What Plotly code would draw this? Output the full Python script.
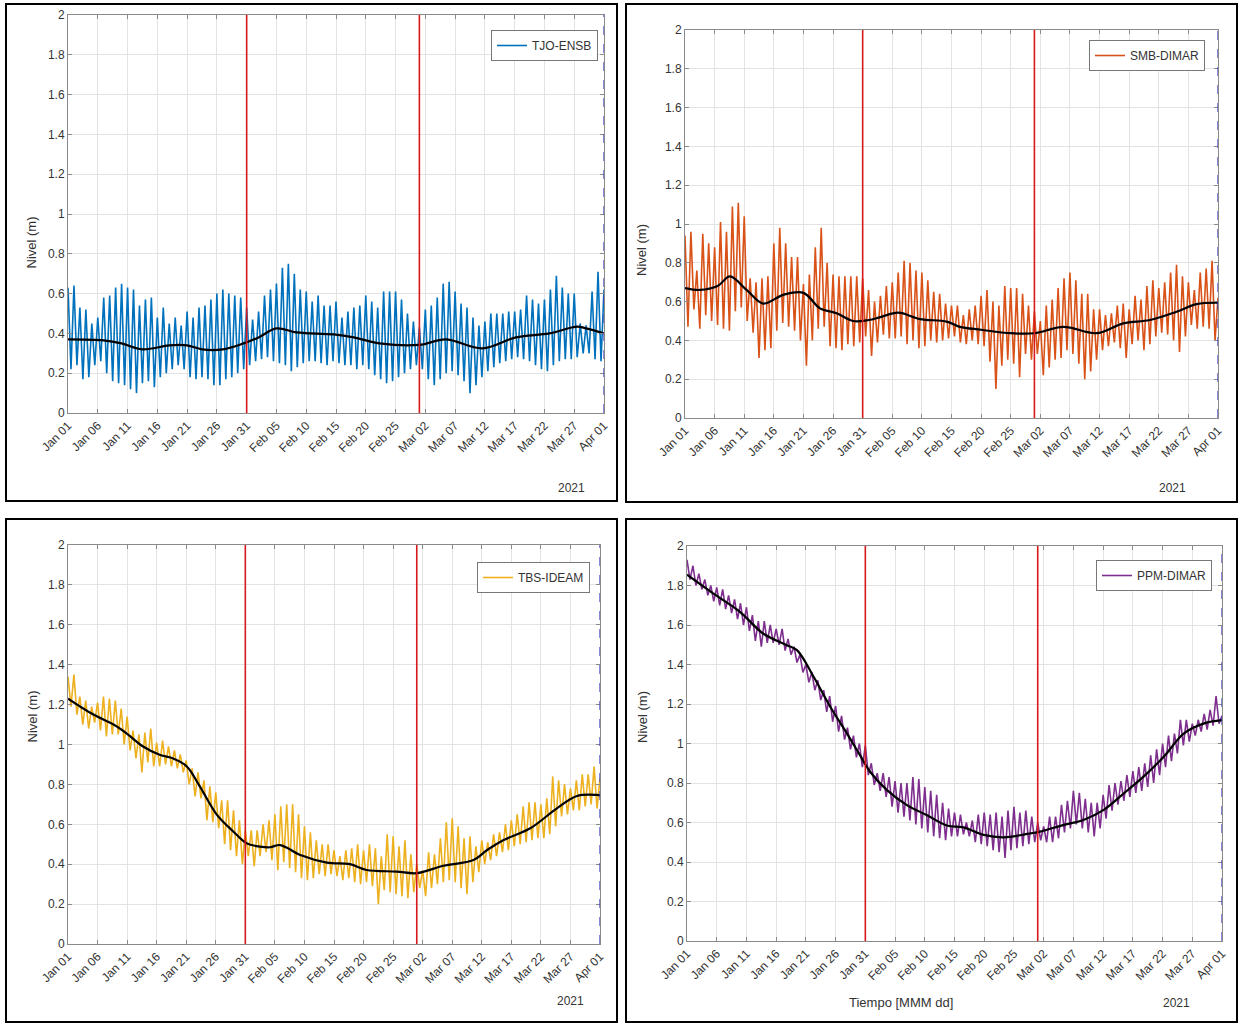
import pandas as pd
import plotly.graph_objects as go
from plotly.subplots import make_subplots

START = "2021-01-01"
END = "2021-04-01"
event_dates = ["2021-01-31", "2021-03-01"]
year_label = "2021"
station_names = ["TJO-ENSB", "SMB-DIMAR", "TBS-IDEAM", "PPM-DIMAR"]
station_colors = ["#0072BD", "#D95319", "#EDB120", "#7E2F8E"]
y_ticks = [0, 0.2, 0.4, 0.6, 0.8, 1, 1.2, 1.4, 1.6, 1.8, 2]
y_ticktext = ["0", "0.2", "0.4", "0.6", "0.8", "1", "1.2", "1.4", "1.6", "1.8", "2"]

# ---- daily high / low water levels (m), Jan 01 .. Apr 01 ----
tjo_high = [0.63, 0.64, 0.53, 0.52, 0.45, 0.48, 0.58, 0.59, 0.63, 0.65,
            0.63, 0.62, 0.54, 0.57, 0.58, 0.48, 0.53, 0.45, 0.48, 0.44,
            0.51, 0.48, 0.53, 0.54, 0.57, 0.60, 0.62, 0.60, 0.59, 0.58,
            0.53, 0.47, 0.51, 0.59, 0.62, 0.65, 0.73, 0.75, 0.70, 0.62,
            0.61, 0.56, 0.59, 0.54, 0.54, 0.56, 0.48, 0.51, 0.53, 0.54,
            0.59, 0.56, 0.53, 0.61, 0.61, 0.61, 0.57, 0.50, 0.46, 0.43,
            0.52, 0.54, 0.58, 0.65, 0.66, 0.61, 0.55, 0.53, 0.48, 0.44,
            0.46, 0.50, 0.50, 0.50, 0.51, 0.51, 0.52, 0.59, 0.57, 0.55,
            0.57, 0.62, 0.69, 0.63, 0.60, 0.60, 0.45, 0.44, 0.61, 0.71,
            0.62]
tjo_low = [0.22, 0.24, 0.17, 0.18, 0.24, 0.26, 0.20, 0.16, 0.15, 0.14,
           0.12, 0.10, 0.15, 0.16, 0.13, 0.18, 0.20, 0.22, 0.24, 0.22,
           0.18, 0.17, 0.18, 0.17, 0.14, 0.14, 0.17, 0.18, 0.20, 0.22,
           0.24, 0.26, 0.27, 0.28, 0.26, 0.25, 0.24, 0.21, 0.23, 0.25,
           0.26, 0.26, 0.25, 0.24, 0.26, 0.25, 0.24, 0.24, 0.22, 0.24,
           0.22, 0.19, 0.17, 0.15, 0.16, 0.18, 0.20, 0.22, 0.24, 0.22,
           0.17, 0.14, 0.17, 0.20, 0.21, 0.19, 0.16, 0.10, 0.14, 0.18,
           0.21, 0.23, 0.25, 0.26, 0.27, 0.28, 0.27, 0.26, 0.24, 0.22,
           0.21, 0.24, 0.26, 0.27, 0.27, 0.28, 0.30, 0.30, 0.27, 0.26,
           0.25]
tjo_mean_day = [0, 6, 9, 12.5, 17, 20, 22.5, 26, 29.5, 32, 35, 38.4, 44.6, 48,
                52.3, 59, 63.4, 69.6, 75.2, 80.8, 85.5, 87, 90]
tjo_mean = [0.37, 0.365, 0.35, 0.32, 0.34, 0.34, 0.32, 0.32, 0.35, 0.38, 0.425,
            0.405, 0.395, 0.38, 0.35, 0.342, 0.37, 0.325, 0.38, 0.40, 0.434,
            0.425, 0.40]

smb_high = [0.94, 0.96, 0.76, 0.95, 0.90, 0.88, 1.01, 0.96, 1.09, 1.11,
            1.04, 0.72, 0.70, 0.72, 0.73, 0.90, 0.98, 0.90, 0.83, 0.83,
            0.69, 0.74, 0.88, 0.98, 0.80, 0.74, 0.73, 0.73, 0.73, 0.73,
            0.72, 0.66, 0.60, 0.63, 0.68, 0.70, 0.75, 0.81, 0.80, 0.76,
            0.75, 0.71, 0.65, 0.64, 0.59, 0.58, 0.58, 0.53, 0.56, 0.58,
            0.63, 0.66, 0.60, 0.58, 0.68, 0.67, 0.67, 0.64, 0.58, 0.55,
            0.50, 0.58, 0.61, 0.67, 0.72, 0.75, 0.71, 0.64, 0.64, 0.56,
            0.56, 0.53, 0.54, 0.58, 0.59, 0.56, 0.63, 0.61, 0.68, 0.71,
            0.67, 0.70, 0.75, 0.79, 0.73, 0.70, 0.66, 0.75, 0.77, 0.81,
            0.62]
smb_low = [0.47, 0.56, 0.46, 0.53, 0.50, 0.48, 0.46, 0.45, 0.55, 0.57,
           0.50, 0.44, 0.31, 0.35, 0.36, 0.45, 0.49, 0.47, 0.45, 0.40,
           0.27, 0.40, 0.46, 0.47, 0.37, 0.36, 0.35, 0.38, 0.37, 0.39,
           0.42, 0.32, 0.39, 0.43, 0.41, 0.41, 0.42, 0.38, 0.40, 0.36,
           0.37, 0.40, 0.39, 0.40, 0.41, 0.42, 0.39, 0.38, 0.40, 0.38,
           0.37, 0.29, 0.15, 0.27, 0.30, 0.28, 0.21, 0.33, 0.30, 0.33,
           0.22, 0.26, 0.30, 0.31, 0.35, 0.33, 0.28, 0.20, 0.24, 0.30,
           0.35, 0.37, 0.39, 0.36, 0.31, 0.38, 0.40, 0.35, 0.38, 0.42,
           0.44, 0.43, 0.40, 0.34, 0.42, 0.48, 0.46, 0.47, 0.46, 0.40,
           0.37]
smb_mean_day = [0, 2.5, 5.5, 7.6, 10.4, 13.2, 16.6, 20, 22.8, 25.6, 28.4, 31,
                33, 36, 39.7, 44.2, 46.4, 50, 55, 59, 63.9, 69.5, 74, 78.5,
                83, 86.4, 90]
smb_mean = [0.67, 0.66, 0.68, 0.73, 0.66, 0.59, 0.635, 0.645, 0.565, 0.54, 0.50,
            0.505, 0.52, 0.543, 0.51, 0.497, 0.47, 0.455, 0.437, 0.437, 0.47,
            0.437, 0.488, 0.505, 0.548, 0.587, 0.594]

tbs_high = [1.34, 1.35, 1.24, 1.22, 1.19, 1.21, 1.24, 1.23, 1.22, 1.18,
            1.14, 1.07, 1.05, 1.06, 1.08, 1.01, 1.02, 0.99, 0.97, 0.95,
            0.92, 0.88, 0.86, 0.82, 0.79, 0.76, 0.72, 0.72, 0.67, 0.62,
            0.57, 0.57, 0.57, 0.60, 0.62, 0.65, 0.69, 0.70, 0.70, 0.65,
            0.59, 0.56, 0.52, 0.50, 0.50, 0.47, 0.44, 0.47, 0.48, 0.50,
            0.47, 0.50, 0.48, 0.44, 0.55, 0.54, 0.49, 0.52, 0.45, 0.40,
            0.37, 0.46, 0.45, 0.53, 0.61, 0.63, 0.59, 0.53, 0.54, 0.49,
            0.52, 0.51, 0.55, 0.56, 0.60, 0.62, 0.65, 0.69, 0.71, 0.71,
            0.70, 0.73, 0.84, 0.82, 0.80, 0.78, 0.82, 0.85, 0.85, 0.89,
            0.83]
tbs_low = [1.19, 1.15, 1.10, 1.08, 1.11, 1.07, 1.04, 1.05, 1.05, 1.00,
           0.97, 0.93, 0.86, 0.91, 0.89, 0.89, 0.90, 0.89, 0.88, 0.86,
           0.80, 0.74, 0.73, 0.62, 0.61, 0.58, 0.50, 0.47, 0.44, 0.40,
           0.44, 0.39, 0.44, 0.46, 0.42, 0.37, 0.41, 0.38, 0.36, 0.33,
           0.32, 0.33, 0.35, 0.34, 0.35, 0.34, 0.32, 0.33, 0.31, 0.30,
           0.31, 0.29, 0.20, 0.27, 0.26, 0.25, 0.24, 0.23, 0.26, 0.28,
           0.24, 0.28, 0.30, 0.31, 0.32, 0.31, 0.28, 0.25, 0.31, 0.36,
           0.40, 0.42, 0.44, 0.46, 0.47, 0.49, 0.50, 0.51, 0.52, 0.53,
           0.53, 0.55, 0.59, 0.64, 0.65, 0.67, 0.67, 0.69, 0.70, 0.68,
           0.68]
tbs_mean_day = [0, 4.3, 7.7, 9.9, 12.7, 15.6, 17.8, 20.1, 22.3, 25.2, 28, 30.2,
                32.5, 34.2, 35.9, 39.3, 43.8, 47.7, 50.5, 55.6, 59, 63.5, 68.6,
                70.9, 73.7, 78.2, 82.7, 86.1, 89.5, 90]
tbs_mean = [1.23, 1.15, 1.10, 1.056, 0.99, 0.947, 0.93, 0.89, 0.79, 0.647, 0.563,
            0.505, 0.488, 0.485, 0.496, 0.446, 0.408, 0.40, 0.371, 0.363, 0.355,
            0.392, 0.421, 0.471, 0.521, 0.58, 0.68, 0.742, 0.747, 0.745]

ppm_high = [1.93, 1.90, 1.86, 1.83, 1.80, 1.79, 1.78, 1.75, 1.73, 1.71,
            1.69, 1.65, 1.62, 1.62, 1.60, 1.58, 1.58, 1.53, 1.49, 1.45,
            1.40, 1.36, 1.32, 1.27, 1.24, 1.19, 1.14, 1.08, 1.04, 1.00,
            0.99, 0.90, 0.85, 0.85, 0.83, 0.81, 0.80, 0.80, 0.83, 0.82,
            0.78, 0.76, 0.74, 0.70, 0.67, 0.65, 0.64, 0.60, 0.61, 0.64,
            0.65, 0.64, 0.65, 0.63, 0.66, 0.68, 0.65, 0.66, 0.63, 0.60,
            0.58, 0.63, 0.63, 0.69, 0.71, 0.76, 0.75, 0.72, 0.70, 0.70,
            0.74, 0.79, 0.80, 0.81, 0.84, 0.86, 0.88, 0.90, 0.94, 0.97,
            1.00, 1.04, 1.05, 1.12, 1.12, 1.10, 1.12, 1.15, 1.17, 1.24,
            1.14]
ppm_low = [1.83, 1.80, 1.78, 1.75, 1.72, 1.70, 1.68, 1.66, 1.63, 1.60,
           1.57, 1.52, 1.49, 1.51, 1.51, 1.50, 1.47, 1.45, 1.41, 1.36,
           1.31, 1.27, 1.22, 1.16, 1.11, 1.06, 1.02, 0.97, 0.93, 0.88,
           0.84, 0.79, 0.76, 0.73, 0.68, 0.65, 0.63, 0.61, 0.59, 0.57,
           0.55, 0.53, 0.52, 0.51, 0.53, 0.53, 0.54, 0.53, 0.50, 0.49,
           0.48, 0.46, 0.45, 0.42, 0.46, 0.47, 0.48, 0.49, 0.50, 0.51,
           0.50, 0.50, 0.52, 0.55, 0.57, 0.59, 0.57, 0.55, 0.53, 0.57,
           0.62, 0.66, 0.69, 0.71, 0.73, 0.75, 0.76, 0.78, 0.80, 0.84,
           0.88, 0.91, 0.95, 0.99, 1.01, 1.04, 1.06, 1.07, 1.09, 1.10,
           1.10]
ppm_mean_day = [0, 4.4, 8.9, 12.8, 16.8, 18.5, 21.3, 24.1, 26.9, 29.1, 30.8,
                33.6, 37, 40.3, 43.7, 46.5, 49.9, 53.3, 57.2, 59.4, 63.4, 66.7,
                70.1, 73.5, 76.8, 80.2, 83.6, 87, 90]
ppm_mean = [1.855, 1.76, 1.667, 1.557, 1.498, 1.473, 1.338, 1.186, 1.051, 0.941,
            0.857, 0.765, 0.688, 0.638, 0.585, 0.575, 0.537, 0.525, 0.542, 0.554,
            0.588, 0.613, 0.664, 0.748, 0.832, 0.933, 1.051, 1.102, 1.118]

highs = [tjo_high, smb_high, tbs_high, ppm_high]
lows = [tjo_low, smb_low, tbs_low, ppm_low]
mean_days = [tjo_mean_day, smb_mean_day, tbs_mean_day, ppm_mean_day]
means = [tjo_mean, smb_mean, tbs_mean, ppm_mean]

t0 = pd.Timestamp(START)

fig = make_subplots(rows=2, cols=2)
positions = [(1, 1), (1, 2), (2, 1), (2, 2)]

for k in range(4):
    xs, ys = [], []
    for i, (h, l) in enumerate(zip(highs[k], lows[k])):
        xs.append(t0 + pd.Timedelta(days=i))
        ys.append(h)
        xs.append(t0 + pd.Timedelta(days=i + 0.5))
        ys.append(l)
    r, c = positions[k]
    leg = "legend" if k == 0 else f"legend{k+1}"
    fig.add_trace(go.Scatter(x=xs, y=ys, mode="lines", name=station_names[k],
                             line=dict(color=station_colors[k], width=1.6),
                             legend=leg), row=r, col=c)
    mx = [t0 + pd.Timedelta(days=d) for d in mean_days[k]]
    fig.add_trace(go.Scatter(x=mx, y=means[k], mode="lines", showlegend=False,
                             line=dict(color="black", width=2.2, shape="spline")),
                  row=r, col=c)

W, H = 1241, 1026
def px(x):
    return x / W
def py(y):
    return 1 - y / H

FONT = "Liberation Sans, Arial, sans-serif"
# axes placement (pixel boxes)
boxes = [(68, 15, 604, 413), (685, 30, 1218, 418), (68, 545, 600, 944), (687, 546, 1222, 941)]
tickvals = [t0 + pd.Timedelta(days=5 * i) for i in range(19)]
for k, (x0, y0, x1, y1) in enumerate(boxes):
    sx = "" if k == 0 else str(k + 1)
    fig.layout["xaxis" + sx].update(
        domain=[px(x0), px(x1)], range=[START, END], tickvals=tickvals,
        tickformat="%b %d", tickangle=-45, showgrid=True, gridcolor="#E3E3E3",
        showline=True, linecolor="#8A8A8A", linewidth=1, mirror="ticks",
        ticks="inside", ticklen=4, tickcolor="#8A8A8A", automargin=False,
        tickfont=dict(family=FONT, size=12, color="#333333"),
        zeroline=False)
    fig.layout["yaxis" + sx].update(
        domain=[py(y1), py(y0)], range=[0, 2], tickvals=y_ticks, ticktext=y_ticktext,
        showgrid=True, gridcolor="#E3E3E3", showline=True, linecolor="#8A8A8A",
        linewidth=1, mirror="ticks", ticks="inside", ticklen=4, tickcolor="#8A8A8A",
        automargin=False,
        tickfont=dict(family=FONT, size=12, color="#333333"),
        zeroline=False)
    xr = "x" if k == 0 else f"x{k+1}"
    yr = "y domain" if k == 0 else f"y{k+1} domain"
    for d in event_dates:
        fig.add_shape(type="line", xref=xr, yref=yr, x0=d, x1=d, y0=0, y1=1,
                      line=dict(color="#D7191C", width=1.6))
    fig.add_shape(type="line", xref=xr, yref=yr, x0=END, x1=END, y0=0, y1=1,
                  line=dict(color="#3B3BC4", width=1.2, dash="dash"))

# outer panel frames
frames = [(6, 4, 617, 501), (626, 4, 1237, 502), (6, 519, 617, 1022), (626, 519, 1237, 1022)]
for (x0, y0, x1, y1) in frames:
    fig.add_shape(type="rect", xref="paper", yref="paper", x0=px(x0), x1=px(x1),
                  y0=py(y1), y1=py(y0), line=dict(color="black", width=2))

annos = []
ylab_pos = [(22, 215), (642, 222), (22, 745), (642, 745)]
for (x, y) in ylab_pos:
    annos.append(dict(x=px(x), y=py(y), xref="paper", yref="paper", text="Nivel (m)",
                      textangle=-90, showarrow=False,
                      font=dict(family=FONT, size=13, color="#333333")))
year_pos = [(571, 488), (1188, 488), (570, 1010), (1192, 1012)]
for (x, y) in year_pos:
    annos.append(dict(x=px(x), y=py(y), xref="paper", yref="paper", text=year_label,
                      showarrow=False,
                      font=dict(family=FONT, size=12, color="#333333")))
annos.append(dict(x=px(955), y=py(1012), xref="paper", yref="paper", text="Tiempo [MMM dd]",
                  showarrow=False,
                  font=dict(family=FONT, size=13, color="#333333")))

leg_style = dict(bgcolor="white", bordercolor="#777777", borderwidth=1,
                 xanchor="right", yanchor="top",
                 font=dict(family=FONT, size=12, color="#333333"))
leg_pos = [(598, 30), (1205, 40), (590, 562), (1212, 560)]

fig.update_layout(
    width=W, height=H, margin=dict(l=0, r=0, t=0, b=0, autoexpand=False),
    paper_bgcolor="white", plot_bgcolor="white", annotations=annos,
    legend=dict(x=px(leg_pos[0][0]), y=py(leg_pos[0][1]), **leg_style),
    legend2=dict(x=px(leg_pos[1][0]), y=py(leg_pos[1][1]), **leg_style),
    legend3=dict(x=px(leg_pos[2][0]), y=py(leg_pos[2][1]), **leg_style),
    legend4=dict(x=px(leg_pos[3][0]), y=py(leg_pos[3][1]), **leg_style),
)

fig.write_html("out.html", config={"displayModeBar": False},
               post_script="document.body.style.margin='0px';document.body.style.overflow='hidden';")
